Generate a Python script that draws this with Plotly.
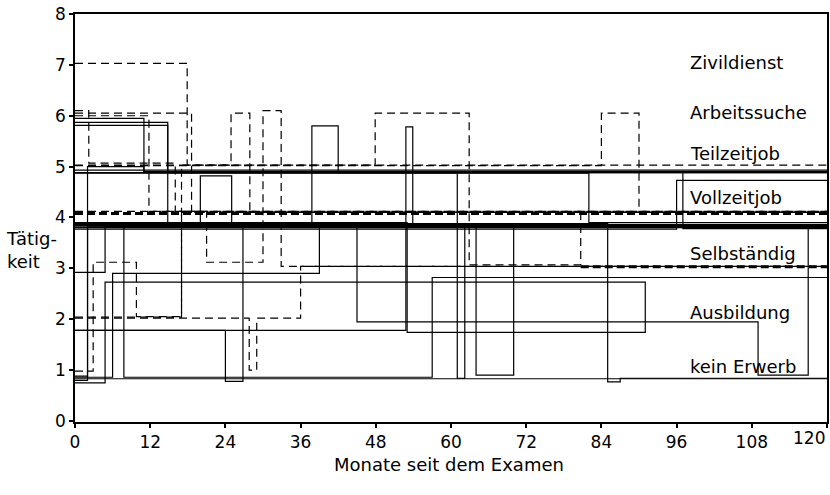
import plotly.graph_objects as go

# ---------------- data: months since exam (step starts + end) and activity level ----------------
months_ticks = [0, 12, 24, 36, 48, 60, 72, 84, 96, 108, 120]
month_tick_labels = ["0", "12", "24", "36", "48", "60", "72", "84", "96", "108", "120"]
level_ticks = [0, 1, 2, 3, 4, 5, 6, 7, 8]

category_labels = ["Zivildienst", "Arbeitssuche", "Teilzeitjob", "Vollzeitjob",
                   "Selbständig", "Ausbildung", "kein Erwerb"]
category_label_y = [7.05, 6.07, 5.25, 4.4, 3.3, 2.14, 1.08]
category_label_x = 97.8

# solid sequences
p01_t = [0, 11, 120];               p01_v = [5.95, 4.90, 4.90]
p02_t = [0, 14.8, 120];             p02_v = [5.87, 4.88, 4.88]
p03_t = [0, 14.8, 120];             p03_v = [5.81, 3.83, 3.83]
p04_t = [0, 120];                   p04_v = [4.93, 4.93]
p05_t = [0, 96, 120];               p05_v = [3.77, 4.73, 4.73]
p06_t = [0, 20, 25, 120];           p06_v = [3.85, 4.82, 3.85, 3.85]
p07_t = [0, 120];                   p07_v = [3.80, 3.80]
p08_t = [0, 120];                   p08_v = [3.86, 3.86]
p09_t = [0, 4.8, 120];              p09_v = [2.92, 3.82, 3.82]
p10_t = [0, 4.8, 91];               p10_v = [0.75, 2.73, 1.73]
p11_t = [0, 24, 26.8, 120];         p11_v = [1.78, 0.78, 3.83, 3.83]
p12_t = [0, 52.8, 53.9, 120];       p12_v = [1.78, 5.78, 3.85, 3.85]
p13_t = [0, 53, 91];                p13_v = [3.90, 1.74, 1.74]
p14_t = [0, 7.8, 57, 120];          p14_v = [3.83, 0.86, 2.82, 2.82]
p15_t = [0, 2, 120];                p15_v = [0.80, 3.83, 3.83]
p16_t = [0, 6, 39, 120];            p16_v = [0.86, 2.90, 3.85, 3.85]
p17_t = [0, 45, 109, 117, 120];     p17_v = [3.85, 1.95, 0.90, 3.80, 3.80]
p18_t = [0, 61, 62.2, 120];         p18_v = [4.88, 0.84, 3.82, 3.82]
p19_t = [0, 64, 70, 120];           p19_v = [3.88, 0.90, 3.82, 3.82]
p20_t = [0, 85, 87, 120];           p20_v = [3.88, 0.77, 0.84, 0.84]
p21_t = [0, 120];                   p21_v = [0.83, 0.83]
p22_t = [0, 37.8, 42, 120];         p22_v = [3.85, 5.80, 4.88, 4.88]
p23_t = [0, 82, 120];               p23_v = [4.87, 3.90, 3.90]
p24_t = [0, 2, 11, 97, 120];        p24_v = [0.88, 5.00, 4.90, 3.78, 3.78]

# dashed sequences
q01_t = [0, 17.9, 120];             q01_v = [7.03, 5.03, 5.03]
q02_t = [0, 18.6, 120];             q02_v = [6.05, 4.10, 4.10]
q03_t = [0, 2.2, 16, 120];          q03_v = [6.10, 5.07, 4.10, 4.10]
q04_t = [0, 17, 24.9, 27.9, 120];   q04_v = [2.04, 5.03, 6.05, 4.10, 4.10]
q05_t = [0, 2.9, 9.8, 17, 120];     q05_v = [0.98, 3.12, 2.05, 4.12, 4.12]
q06_t = [0, 21, 30, 32.9, 120];     q06_v = [4.12, 3.12, 6.10, 3.04, 3.04]
q07_t = [0, 47.9, 62.9, 80.7, 120]; q07_v = [5.03, 6.05, 3.07, 4.10, 4.10]
q08_t = [0, 84, 90, 120];           q08_v = [5.02, 6.05, 4.10, 4.10]
q09_t = [0, 27.8, 29, 36, 120];     q09_v = [2.02, 1.00, 2.02, 3.04, 3.04]
q10_t = [0, 11.8, 120];             q10_v = [6.00, 4.12, 4.12]
q11_t = [0, 120];                   q11_v = [4.08, 4.08]
q12_t = [80.7, 120];                q12_v = [3.03, 3.03]

solid_series = [(p01_t, p01_v), (p02_t, p02_v), (p03_t, p03_v), (p04_t, p04_v),
                (p05_t, p05_v), (p06_t, p06_v), (p07_t, p07_v), (p08_t, p08_v),
                (p09_t, p09_v), (p10_t, p10_v), (p11_t, p11_v), (p12_t, p12_v),
                (p13_t, p13_v), (p14_t, p14_v), (p15_t, p15_v), (p16_t, p16_v),
                (p17_t, p17_v), (p18_t, p18_v), (p19_t, p19_v), (p20_t, p20_v),
                (p21_t, p21_v), (p22_t, p22_v), (p23_t, p23_v), (p24_t, p24_v)]
dashed_series = [(q01_t, q01_v), (q02_t, q02_v), (q03_t, q03_v), (q04_t, q04_v),
                 (q05_t, q05_v), (q06_t, q06_v), (q07_t, q07_v), (q08_t, q08_v),
                 (q09_t, q09_v), (q10_t, q10_v)]
heavy_dashed_series = [(q11_t, q11_v), (q12_t, q12_v)]

FONT = "DejaVu Sans"

fig = go.Figure()
for t, v in solid_series:
    fig.add_trace(go.Scatter(x=t, y=v, mode="lines", line_shape="hv",
                             line=dict(color="black", width=1.2),
                             showlegend=False, hoverinfo="skip"))
for t, v in dashed_series:
    fig.add_trace(go.Scatter(x=t, y=v, mode="lines", line_shape="hv",
                             line=dict(color="black", width=1.2, dash="8px,5px"),
                             showlegend=False, hoverinfo="skip"))
for t, v in heavy_dashed_series:
    fig.add_trace(go.Scatter(x=t, y=v, mode="lines", line_shape="hv",
                             line=dict(color="black", width=3, dash="8px,4px"),
                             showlegend=False, hoverinfo="skip"))

annotations = []
for lab, yv in zip(category_labels, category_label_y):
    annotations.append(dict(x=category_label_x, y=yv, xref="x", yref="y", text=lab,
                            showarrow=False, xanchor="left", yanchor="middle",
                            font=dict(family=FONT, size=18, color="black")))
annotations.append(dict(x=-0.095, y=3.37, xref="paper", yref="y", text="Tätig-<br>keit",
                        showarrow=False, xanchor="left", yanchor="middle", align="left",
                        font=dict(family=FONT, size=18, color="black")))
annotations.append(dict(x=0.497, y=-0.105, xref="paper", yref="paper",
                        text="Monate seit dem Examen", showarrow=False,
                        xanchor="center", yanchor="middle",
                        font=dict(family=FONT, size=18, color="black")))
# last x tick label, right-aligned so it stays inside the page
annotations.append(dict(x=1.0, y=-0.04, xref="paper", yref="paper",
                        text=month_tick_labels[-1], showarrow=False,
                        xanchor="right", yanchor="middle",
                        font=dict(family=FONT, size=17, color="black")))

fig.update_layout(
    width=830, height=495,
    margin=dict(l=75, r=3, t=14, b=73),
    paper_bgcolor="white", plot_bgcolor="white",
    annotations=annotations,
    xaxis=dict(range=[0, 120], tickvals=months_ticks,
               ticktext=month_tick_labels[:-1] + [""],
               ticks="outside", ticklen=4, automargin=False,
               tickwidth=2, tickcolor="black", showline=True, linecolor="black",
               linewidth=1.5, mirror=True, showgrid=False, zeroline=False,
               tickfont=dict(family=FONT, size=17, color="black")),
    yaxis=dict(range=[-0.02, 8], tickvals=level_ticks, ticks="outside", ticklen=4,
               automargin=False,
               tickwidth=2, tickcolor="black", showline=True, linecolor="black",
               linewidth=1.5, mirror=True, showgrid=False, zeroline=False,
               tickfont=dict(family=FONT, size=17, color="black")),
)

fig.write_html("out.html",
               config={"displayModeBar": False},
               post_script="document.body.style.margin='0px';"
                           "document.body.style.overflow='hidden';")
